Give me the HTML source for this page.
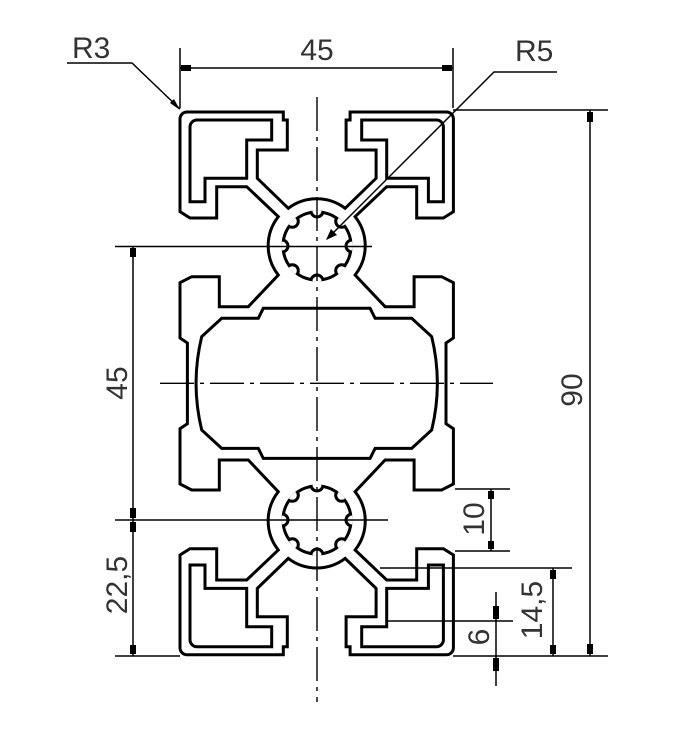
<!DOCTYPE html>
<html><head><meta charset="utf-8"><style>
html,body{margin:0;padding:0;background:#fff;}
svg{display:block;}
text{font-family:"Liberation Sans",sans-serif;font-size:30px;fill:#333;}
</style></head><body>
<svg width="694" height="738" viewBox="0 0 694 738" xmlns="http://www.w3.org/2000/svg">
<defs>
<clipPath id="sc"><circle cx="0" cy="0" r="35.5"/></clipPath>
<g id="hole">
<path d="M190,127 A7,7 0 0 1 197,120 L271.7,120 L271.7,140 L246.7,140 L246.7,178.3 L205,178.3 L205,201.7 L190,201.7 Z" fill="none" stroke="#000" stroke-width="3"/>
</g>
<g id="star">
<circle cx="0" cy="0" r="34" fill="none" stroke="#000" stroke-width="3"/>
<g clip-path="url(#sc)" fill="#fff" stroke="#000" stroke-width="3">
<circle cx="0" cy="-35" r="6"/>
<circle cx="24.7" cy="-24.7" r="6"/>
<circle cx="35" cy="0" r="6"/>
<circle cx="24.7" cy="24.7" r="6"/>
<circle cx="0" cy="35" r="6"/>
<circle cx="-24.7" cy="24.7" r="6"/>
<circle cx="-35" cy="0" r="6"/>
<circle cx="-24.7" cy="-24.7" r="6"/>
</g>
</g>
</defs>

<path fill="none" stroke="#000" stroke-width="3" stroke-linejoin="miter" d="
M180,119 A7,7 0 0 1 187,112 L283.3,112 L283.3,120 L287.3,120 L287.3,150 L257.3,150 L257.3,178.3 L288.3,208.3
A47,47 0 0 1 345.1,208.3 L376.1,178.3 L376.1,150 L346.1,150 L346.1,120 L350.1,120 L350.1,112 L446.4,112
A7,7 0 0 1 453.4,119 L453.4,211.7 L443.4,218 L416.7,218 L416.7,186.7 L386.7,186.7 L355.1,216.7
A47,47 0 0 1 355.1,275 L385.1,306.7 L414.1,306.7 L414.1,276.7 L441.7,276.7 L453.4,282.7
L453.4,338 L446,343 L446,423.7 L453.4,428.7 L453.4,484 L441.7,490 L414.1,490 L414.1,460 L385.1,460 L355.1,491.7
A47,47 0 0 1 355.1,550 L386.7,580 L416.7,580 L416.7,548.7 L443.4,548.7 L453.4,555 L453.4,647.7
A7,7 0 0 1 446.4,654.7 L350.1,654.7 L350.1,646.7 L346.1,646.7 L346.1,616.7 L376.1,616.7 L376.1,588.4 L345.1,558.4
A47,47 0 0 1 288.3,558.4 L257.3,588.4 L257.3,616.7 L287.3,616.7 L287.3,646.7 L283.3,646.7 L283.3,654.7 L187,654.7
A7,7 0 0 1 180,647.7 L180,555 L190,548.7 L216.7,548.7 L216.7,580 L246.7,580 L278.3,550
A47,47 0 0 1 278.3,491.7 L248.3,460 L219.3,460 L219.3,490 L191.7,490 L180,484 L180,428.7 L187.4,423.7 L187.4,343 L180,338 L180,282.7 L191.7,276.7 L219.3,276.7 L219.3,306.7 L248.3,306.7 L278.3,275
A47,47 0 0 1 278.3,216.7 L246.7,186.7 L216.7,186.7 L216.7,218 L190,218 L180,211.7 Z"/>

<use href="#hole"/>
<use href="#hole" transform="translate(633.4,0) scale(-1,1)"/>
<use href="#hole" transform="translate(0,766.7) scale(1,-1)"/>
<use href="#hole" transform="translate(633.4,766.7) scale(-1,-1)"/>

<path fill="none" stroke="#000" stroke-width="3" d="M221.7,318.3 L258.3,318.3 L263.3,308.3 L370.1,308.3 L375.1,318.3 L411.7,318.3 L431.7,336.7 Q443,383.35 431.7,430 L411.7,448.4 L375.1,448.4 L370.1,458.4 L263.3,458.4 L258.3,448.4 L221.7,448.4 L201.7,430 Q190.4,383.35 201.7,336.7 Z"/>

<use href="#star" transform="translate(317,246)"/>
<use href="#star" transform="translate(317,520)"/>

<g stroke="#000" stroke-width="1.4" fill="none">
<line x1="317" y1="97" x2="317" y2="702" stroke-dasharray="34 6 4 6"/>
<line x1="160" y1="383.3" x2="493" y2="383.3" stroke-dasharray="34 6 4 6"/>
<line x1="115" y1="246.5" x2="372" y2="246.5"/>
<line x1="115" y1="520" x2="388" y2="520"/>
</g>

<g stroke="#000" stroke-width="1.5" fill="none">
<line x1="180" y1="48" x2="180" y2="108"/>
<line x1="453" y1="48" x2="453" y2="108"/>
<line x1="180" y1="68" x2="453" y2="68"/>
<polyline points="67,63 132,63 180,109"/>
<polyline points="557,72 494,72 327,239"/>
<line x1="453" y1="110" x2="608" y2="110"/>
<line x1="453" y1="656" x2="608" y2="656"/>
<line x1="590" y1="110" x2="590" y2="656"/>
<line x1="455" y1="489" x2="510" y2="489"/>
<line x1="455" y1="551" x2="510" y2="551"/>
<line x1="491" y1="489" x2="491" y2="551"/>
<line x1="380" y1="568" x2="572" y2="568"/>
<line x1="553" y1="568" x2="553" y2="656"/>
<line x1="386" y1="621" x2="513" y2="621"/>
<line x1="496" y1="592" x2="496" y2="686"/>
<line x1="115" y1="656" x2="180" y2="656"/>
<line x1="133" y1="246.5" x2="133" y2="656"/>
</g>

<g fill="#000">
<rect x="181" y="65" width="10" height="6"/>
<rect x="442" y="65" width="10" height="6"/>
<polygon points="180,110 170,103 174,99"/>
<polygon points="326,240 331,229 337,235"/>
<rect x="587" y="112" width="6" height="10"/>
<rect x="587" y="644" width="6" height="10"/>
<rect x="488" y="491" width="6" height="8"/>
<rect x="488" y="541" width="6" height="8"/>
<rect x="550" y="570" width="6" height="9"/>
<rect x="550" y="645" width="6" height="9"/>
<rect x="493" y="606" width="6" height="13"/>
<rect x="493" y="658" width="6" height="13"/>
<rect x="130" y="248" width="6" height="9"/>
<rect x="130" y="508" width="6" height="10"/>
<rect x="130" y="522" width="6" height="10"/>
<rect x="130" y="645" width="6" height="9"/>
</g>

<text x="317" y="60" text-anchor="middle">45</text>
<text x="72" y="58">R3</text>
<text x="515" y="61">R5</text>
<text transform="translate(582,390) rotate(-90)" text-anchor="middle">90</text>
<text transform="translate(127,383) rotate(-90)" text-anchor="middle">45</text>
<text transform="translate(127,585) rotate(-90)" text-anchor="middle">22,5</text>
<text transform="translate(484,519) rotate(-90)" text-anchor="middle">10</text>
<text transform="translate(542,610) rotate(-90)" text-anchor="middle">14,5</text>
<text transform="translate(489,637) rotate(-90)" text-anchor="middle">6</text>
</svg>
</body></html>
